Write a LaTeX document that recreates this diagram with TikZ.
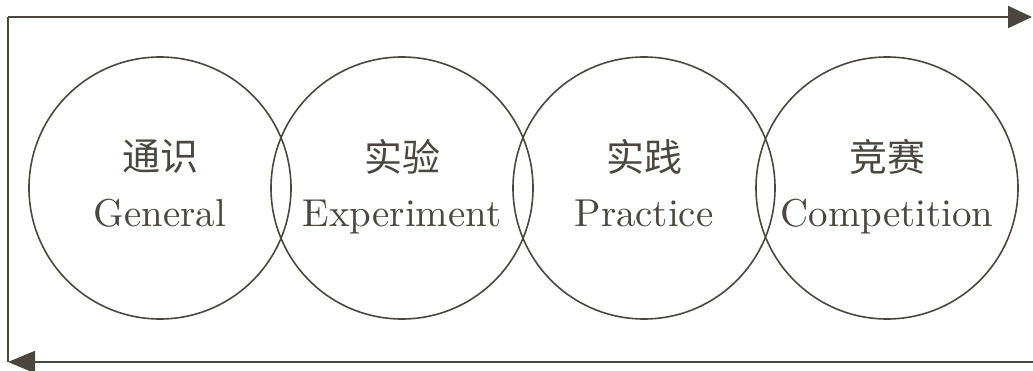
\documentclass[tikz,border=0pt]{standalone}
\usepackage{fontspec}
\newfontfamily\cjk{Noto Sans CJK SC}
\newfontfamily\enfont[Extension=.otf]{lmroman10-regular}
\usetikzlibrary{arrows.meta}
\definecolor{ink}{RGB}{75,71,64}
\tikzset{
	ring/.style={circle, draw=ink, line width=1.6pt, minimum size=262pt, inner sep=0pt},
	zh/.style={text=ink, font=\cjk\fontsize{38}{40}\selectfont},
	en/.style={text=ink, font=\enfont\fontsize{38.9}{42}\selectfont, anchor=base},
	frame/.style={draw=ink, line width=2pt},
}
\begin{document}
\begin{tikzpicture}[x=1pt,y=-1pt]
	\useasboundingbox (0,0) rectangle (1033,371);
		\coordinate (TL) at (8,17);
		\coordinate (TR) at (1032,17);
		\coordinate (BL) at (8,362);
		\coordinate (BR) at (1033,362);
	\node[ring] (G) at (160,188) {};
	\node[ring] (E) at (402,188) {};
	\node[ring] (P) at (644,188) {};
	\node[ring] (C) at (887,188) {};
		\node[zh] (G1) at (160,157) {通识};
		\node[en] (G2) at (160,227) {General};
		\node[zh] (E1) at (402,157) {实验};
		\node[en] (E2) at (402,227) {Experiment};
		\node[zh] (P1) at (644,157) {实践};
		\node[en] (P2) at (644,227) {Practice};
		\node[zh] (C1) at (887,157) {竞赛};
		\node[en] (C2) at (887,227) {Competition};
	\draw[frame, -{Triangle[length=24pt,width=22pt]}] (TL) -- (TR);
	\draw[frame] (TL) -- (BL);
	\draw[frame, -{Triangle[length=27pt,width=22pt]}] (BR) -- (BL);
\end{tikzpicture}
\end{document}
